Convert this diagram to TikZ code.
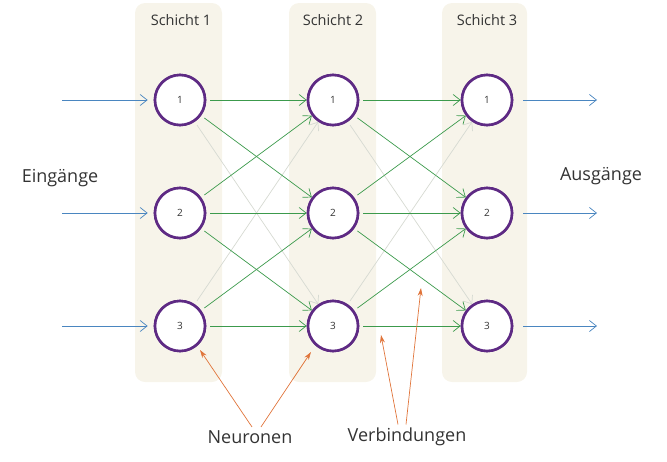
\documentclass[tikz,border=0pt]{standalone}
\usepackage{fontspec}
\setmainfont{Open Sans}
\usetikzlibrary{arrows.meta}
\definecolor{panel}{HTML}{F7F4EA}
\definecolor{neur}{HTML}{5E2A84}
\definecolor{conn}{HTML}{3C9A4C}
\definecolor{faint}{HTML}{D6DAD2}
\definecolor{io}{HTML}{4A86C0}
\definecolor{note}{HTML}{E0743A}
\begin{document}
\begin{tikzpicture}[x=1pt,y=-1pt,
  neuron/.style={circle,draw=neur,line width=2.6pt,fill=white,minimum size=50pt,inner sep=0pt,font=\fontsize{10}{12}\selectfont,text=black!80},
  panelbox/.style={fill=panel,rounded corners=10pt},
  tip/.style={-{Straight Barb[length=7pt,width=11pt]}},
  strong/.style={tip,draw=conn,line width=0.7pt,shorten <=4pt},
  weak/.style={tip,draw=faint,line width=0.7pt,shorten <=4pt},
  ioarrow/.style={tip,draw=io,line width=0.7pt},
  callout/.style={-{Stealth[length=8pt,width=5pt]},draw=note,line width=0.7pt},
  lbl/.style={font=\fontsize{18}{22}\selectfont,text=black!80},
  head/.style={font=\fontsize{14.5}{17}\selectfont,text=black!80}]
\useasboundingbox (0,0) rectangle (667,461);
% panels
\fill[panelbox] (135,3) rectangle (222,382);
\fill[panelbox] (289,3) rectangle (376,382);
\fill[panelbox] (442,3) rectangle (527,382);
\node[head] (h1) at (181,20) {Schicht 1};
\node[head] (h2) at (333,20) {Schicht 2};
\node[head] (h3) at (487,20) {Schicht 3};
% neurons
\foreach \c/\x in {1/180,2/333,3/487}{
  \foreach \r/\y in {1/100,2/213,3/326}{
    \node[neuron] (n\c\r) at (\x,\y) {\r};
  }
}
% connections
\foreach \a/\b in {1/2,2/3}{
  \draw[weak] (n\a1) -- (n\b3);
  \draw[weak] (n\a3) -- (n\b1);
  \draw[strong] (n\a1) -- (n\b1);
  \draw[strong] (n\a1) -- (n\b2);
  \draw[strong] (n\a2) -- (n\b1);
  \draw[strong] (n\a2) -- (n\b2);
  \draw[strong] (n\a2) -- (n\b3);
  \draw[strong] (n\a3) -- (n\b2);
  \draw[strong] (n\a3) -- (n\b3);
}
% redraw neurons on top
\foreach \c/\x in {1/180,2/333,3/487}{
  \foreach \r/\y in {1/100,2/213,3/326}{
    \node[neuron] at (\x,\y) {\r};
  }
}
% inputs / outputs
\foreach \r/\y in {1/100,2/213,3/326}{
  \coordinate (i\r) at (62,\y);
  \coordinate (o\r) at (597,\y);
  \draw[ioarrow] (i\r) -- ([xshift=-6pt]n1\r.west);
  \draw[ioarrow] ([xshift=10pt]n3\r.east) -- (o\r);
}
\node[lbl] (ein) at (60,178) {Eingänge};
\node[lbl] (aus) at (601,176) {Ausgänge};
% callouts
\node[lbl] (neu) at (250,437) {Neuronen};
\node[lbl] (ver) at (407,437) {Verbindungen};
\coordinate (c1) at (200,350);
\coordinate (c2) at (311,352);
\coordinate (c3) at (381,335);
\coordinate (c4) at (421,288);
\draw[callout] ([xshift=2pt]neu.north) -- (c1);
\draw[callout] ([xshift=11pt]neu.north) -- (c2);
\draw[callout] ([xshift=-9pt]ver.north) -- (c3);
\draw[callout] ([xshift=-1pt]ver.north) -- (c4);
\end{tikzpicture}
\end{document}
